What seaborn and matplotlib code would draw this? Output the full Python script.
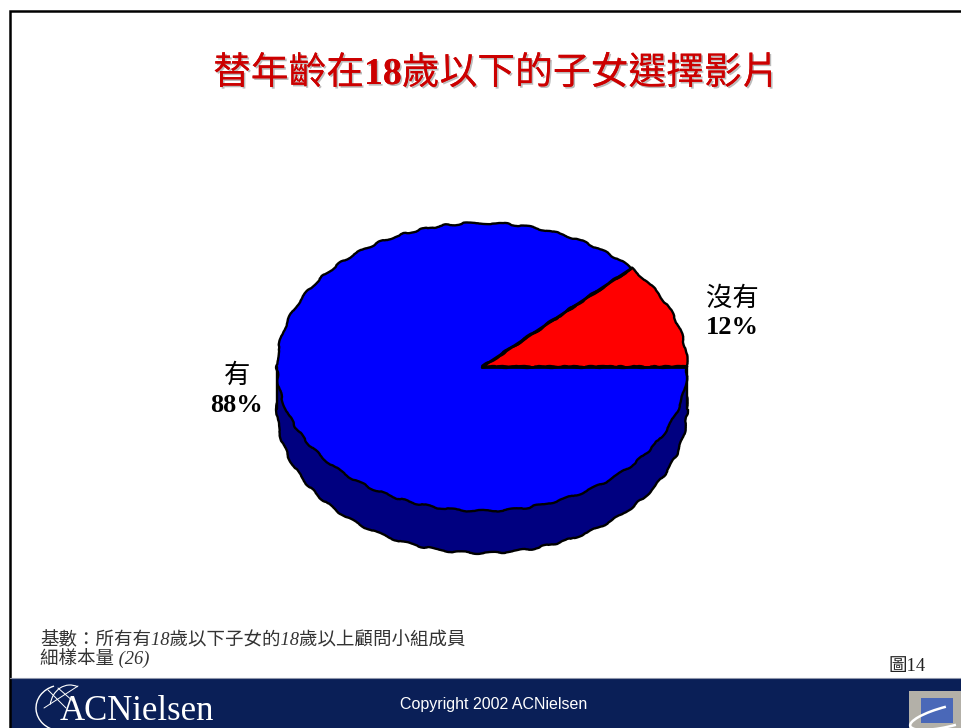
import numpy as np
import matplotlib
matplotlib.use('Agg')
import matplotlib.pyplot as plt
import matplotlib.patheffects as pe
from matplotlib.patches import Rectangle, Arc
import seaborn as sns

# Chart data
categories = ['沒有', '有']
shares = [12, 88]
slice_colors = ['#ff0000', '#0000ff']
side_color = '#000080'

title_parts = ['替年齡在', '18', '歲以下的子女選擇影片']
base_note = '基數：所有有18歲以下子女的18歲以上顧問小組成員'
sample_note = '細樣本量 (26)'
figure_no = '圖14'
copyright_text = 'Copyright 2002 ACNielsen'
brand = 'ACNielsen'

sns.set_theme(style='white')
serif_cjk = ['Liberation Serif', 'Noto Sans CJK TC']
plt.rcParams['font.family'] = serif_cjk

W, H = 962, 728
fig = plt.figure(figsize=(W / 100, H / 100), dpi=100, facecolor='white')

# Page furniture is laid out in pixel coordinates
page = fig.add_axes([0, 0, 1, 1])
page.set_xlim(0, W)
page.set_ylim(H, 0)
page.axis('off')
page.plot([10, 10, W], [H, 10.5, 10.5], color='black', lw=1.8, solid_joinstyle='miter')
page.add_patch(Rectangle((10, 678), W - 10, 50, color='#0a1f57', lw=0))
page.plot([10, W], [677.5, 677.5], color='#8f96ab', lw=0.8)

# Title: CJK in regular weight, the number in bold, chained one after the other
shadow = [pe.withSimplePatchShadow(offset=(1.2, -1.2), shadow_rgbFace='#aaaaaa', alpha=0.8), pe.Normal()]
prev = page.text(213, 84, title_parts[0], color='#cc0000', fontsize=27.2, ha='left', va='baseline')
prev.set_path_effects(shadow)
for part, weight in zip(title_parts[1:], ['bold', 'normal']):
    prev = page.annotate(part, xy=(1, 0), xycoords=prev, xytext=(0, 0), textcoords='offset points',
                         color='#cc0000', fontsize=27.2, fontweight=weight, ha='left', va='bottom')
    prev.set_path_effects(shadow)

# Pie: an ellipse of 410 x 288 px, so the axes span it exactly
ax = fig.add_axes([277 / W, 1 - 511 / H, 410 / W, 288 / H])
ax.patch.set_alpha(0)
depth = 42 / 144
rough = (1.0, 34, 4)
edge = {'edgecolor': 'black', 'linewidth': 1.7, 'joinstyle': 'round'}

base, _ = ax.pie([1], center=(0, -depth), colors=[side_color], radius=1, wedgeprops=edge)
for w in base:
    w.set_sketch_params(*rough)
    w.set_clip_on(False)
ax.add_patch(Rectangle((-1, -depth), 2, depth, color=side_color, lw=0, clip_on=False))
for sx in [-1, 1]:
    ax.plot([sx, sx], [-depth, 0], color='black', lw=1.7, clip_on=False)

wedges, _ = ax.pie(shares, colors=sns.color_palette(slice_colors), startangle=0, radius=1, wedgeprops=edge)
for w in wedges:
    w.set_sketch_params(*rough)
    w.set_clip_on(False)

# Straight spokes over the rough outline
for w in wedges:
    a = np.deg2rad(w.theta1)
    ax.plot([0, np.cos(a)], [0, np.sin(a)], color='black', lw=2, clip_on=False,
            solid_capstyle='butt')

ax.set_aspect('auto')
ax.set_xlim(-1, 1)
ax.set_ylim(-1, 1)
ax.axis('off')

# Slice labels
label_pos = {'沒有': (732, 299, 328), '有': (237, 376, 405)}
for name, share in zip(categories, shares):
    x, y1, y2 = label_pos[name]
    page.text(x, y1, name, fontsize=19, color='black', ha='center', va='center')
    page.text(x, y2, f'{share}%', fontsize=19, fontweight='bold', color='black', ha='center', va='center')

# Footnotes
page.text(40, 640, base_note, fontsize=13.3, style='italic', color='#333333', va='center')
page.text(40, 659, sample_note, fontsize=13.3, style='italic', color='#333333', va='center')
page.text(889, 666, figure_no, fontsize=13.3, color='#222222', va='center')

# Footer
page.text(400, 705, copyright_text, fontsize=11.5, color='white', family='Liberation Sans',
          ha='left', va='center')
page.text(60, 720.5, brand, fontsize=25, color='white', ha='left', va='baseline')
page.add_patch(Arc((62, 708), 52, 46, angle=0, theta1=100, theta2=250, color='white', lw=1))
page.add_patch(Arc((70, 708), 40, 46, angle=0, theta1=190, theta2=290, color='white', lw=0.8))
page.plot([44, 78], [708, 686], color='white', lw=0.7)
page.plot([48, 66], [690, 708], color='white', lw=0.7)
page.plot([58, 74], [688, 702], color='white', lw=0.7)

# Corner badge
page.add_patch(Rectangle((909, 691), 53, 37, color='#b3b0a8', lw=0))
page.add_patch(Rectangle((921.5, 698), 32, 25, color='#4a68b8', lw=0))
page.add_patch(Arc((950, 716), 82, 20, angle=-14, theta1=70, theta2=260, color='white', lw=1.8))
page.set_xlim(0, W)
page.set_ylim(H, 0)

fig.savefig('out.png', dpi=100)
